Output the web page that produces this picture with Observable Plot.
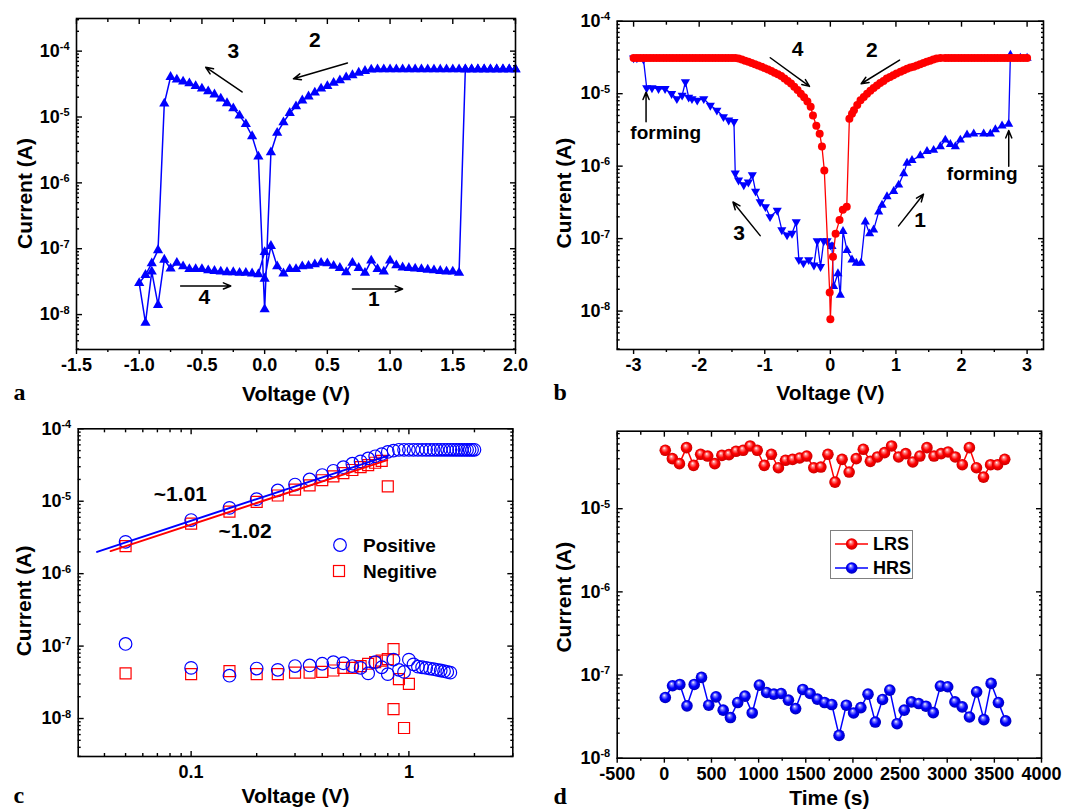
<!DOCTYPE html>
<html><head><meta charset="utf-8">
<script src="https://cdn.jsdelivr.net/npm/d3@7"></script>
<script src="https://cdn.jsdelivr.net/npm/@observablehq/plot@0.6"></script>
<style>
body{margin:0;background:#fff;}
#wrap{position:relative;width:1083px;height:809px;background:#fff;overflow:hidden;font-family:'Liberation Sans',Arial,Helvetica,sans-serif;}
.panel{position:absolute;}
.leg{position:absolute;overflow:visible;}
</style></head>
<body>
<svg width="0" height="0" style="position:absolute"><defs>
<radialGradient id="gRed" cx="50%" cy="50%" r="55%" fx="40%" fy="30%">
<stop offset="0%" stop-color="#ffffff"/><stop offset="22%" stop-color="#ff8080"/><stop offset="55%" stop-color="#ff0000"/><stop offset="100%" stop-color="#c00000"/>
</radialGradient>
<radialGradient id="gBlue" cx="50%" cy="50%" r="55%" fx="40%" fy="30%">
<stop offset="0%" stop-color="#ffffff"/><stop offset="22%" stop-color="#8080ff"/><stop offset="55%" stop-color="#0000ff"/><stop offset="100%" stop-color="#0000b0"/>
</radialGradient>
</defs></svg>
<div id="wrap">
<div class="panel" id="pa" style="left:0;top:0;width:540px;height:405px"></div>
<div class="panel" id="pb" style="left:540px;top:0;width:543px;height:405px"></div>
<div class="panel" id="pc" style="left:0;top:405px;width:540px;height:404px"></div>
<div class="panel" id="pd" style="left:540px;top:405px;width:543px;height:404px"></div>
</div>
<script>
// ---------------- Panel a data: [voltage V, current A] ----------------
const aSweep1 = [[0,3.5e-8],[0.05,1.1e-7],[0.1,5.4e-8],[0.15,4.2e-8],[0.2,4.9e-8],[0.25,4.9e-8],[0.3,5.4e-8],[0.35,5.5e-8],[0.4,5.8e-8],[0.45,6.1e-8],[0.5,6.0e-8],[0.55,5.5e-8],[0.6,5.1e-8],[0.65,4.4e-8],[0.7,6.1e-8],[0.75,5.1e-8],[0.8,4.3e-8],[0.85,6.6e-8],[0.9,4.9e-8],[0.95,4.5e-8],[1.0,6.6e-8],[1.05,5.6e-8],[1.1,5.2e-8],[1.15,5.1e-8],[1.2,5.0e-8],[1.25,4.9e-8],[1.3,4.8e-8],[1.35,4.7e-8],[1.4,4.6e-8],[1.45,4.5e-8],[1.5,4.5e-8],[1.55,4.3e-8],[1.6,5.3e-5],[1.65,5.3e-5],[1.7,5.3e-5],[1.75,5.3e-5],[1.8,5.3e-5],[1.85,5.3e-5],[1.9,5.3e-5],[1.95,5.3e-5],[2.0,5.3e-5]];
const aSweep2 = [[2.0,5.3e-5],[1.95,5.3e-5],[1.9,5.3e-5],[1.85,5.3e-5],[1.8,5.3e-5],[1.75,5.3e-5],[1.7,5.3e-5],[1.65,5.3e-5],[1.6,5.3e-5],[1.55,5.3e-5],[1.5,5.3e-5],[1.45,5.3e-5],[1.4,5.3e-5],[1.35,5.3e-5],[1.3,5.3e-5],[1.25,5.3e-5],[1.2,5.3e-5],[1.15,5.3e-5],[1.1,5.3e-5],[1.05,5.3e-5],[1.0,5.3e-5],[0.95,5.3e-5],[0.9,5.3e-5],[0.85,5.25e-5],[0.8,5.0e-5],[0.75,4.7e-5],[0.7,4.3e-5],[0.65,4.0e-5],[0.6,3.6e-5],[0.55,3.3e-5],[0.5,2.95e-5],[0.45,2.7e-5],[0.4,2.35e-5],[0.35,2.05e-5],[0.3,1.78e-5],[0.25,1.45e-5],[0.2,1.15e-5],[0.15,8.3e-6],[0.1,5.75e-6],[0.05,2.9e-6],[0,1.2e-8]];
const aSweep3 = [[-0.05,2.5e-6],[-0.1,5.1e-6],[-0.15,7.8e-6],[-0.2,1.05e-5],[-0.25,1.35e-5],[-0.3,1.62e-5],[-0.35,1.9e-5],[-0.4,2.2e-5],[-0.45,2.45e-5],[-0.5,2.7e-5],[-0.55,2.95e-5],[-0.6,3.25e-5],[-0.65,3.45e-5],[-0.7,3.7e-5],[-0.75,4.05e-5],[-0.8,1.6e-5],[-0.85,9.5e-8],[-0.9,6.0e-8],[-0.95,4.0e-8],[-1.0,3.0e-8]];
const aSweep4 = [[-0.95,7.5e-9],[-0.9,4.5e-8],[-0.85,1.4e-8],[-0.8,6.8e-8],[-0.75,5.0e-8],[-0.7,6.1e-8],[-0.65,5.4e-8],[-0.6,4.9e-8],[-0.55,4.9e-8],[-0.5,4.9e-8],[-0.45,4.7e-8],[-0.4,4.6e-8],[-0.35,4.5e-8],[-0.3,4.4e-8],[-0.25,4.4e-8],[-0.2,4.3e-8],[-0.15,4.3e-8],[-0.1,4.2e-8],[-0.05,4.1e-8],[0,8.9e-8]];
const aLabels = [{t:"3",x:-0.25,y:1.0e-4},{t:"2",x:0.40,y:1.45e-4},{t:"4",x:-0.48,y:1.85e-8},{t:"1",x:0.87,y:1.7e-8}];
const aArrows = [{x1:-0.18,y1:2.4e-5,x2:-0.47,y2:5.7e-5},{x1:0.66,y1:6.6e-5,x2:0.23,y2:3.8e-5},{x1:-0.67,y1:2.72e-8,x2:-0.27,y2:2.72e-8},{x1:0.70,y1:2.45e-8,x2:1.10,y2:2.45e-8}];

// ---------------- Panel b data ----------------
const bRed = [[-3.00,3.1e-5],[-2.95,3.1e-5],[-2.90,3.1e-5],[-2.85,3.1e-5],[-2.80,3.1e-5],[-2.75,3.1e-5],[-2.70,3.1e-5],[-2.65,3.1e-5],[-2.60,3.1e-5],[-2.55,3.1e-5],[-2.50,3.1e-5],[-2.45,3.1e-5],[-2.40,3.1e-5],[-2.35,3.1e-5],[-2.30,3.1e-5],[-2.25,3.1e-5],[-2.20,3.1e-5],[-2.15,3.1e-5],[-2.10,3.1e-5],[-2.05,3.1e-5],[-2.00,3.1e-5],[-1.95,3.1e-5],[-1.90,3.1e-5],[-1.85,3.1e-5],[-1.80,3.1e-5],[-1.75,3.1e-5],[-1.70,3.1e-5],[-1.65,3.1e-5],[-1.60,3.1e-5],[-1.55,3.1e-5],[-1.50,3.1e-5],[-1.45,3.1e-5],
[-1.40,3.05e-5],[-1.35,2.95e-5],[-1.30,2.85e-5],[-1.25,2.75e-5],[-1.20,2.65e-5],[-1.15,2.55e-5],[-1.10,2.45e-5],[-1.05,2.35e-5],[-1.00,2.25e-5],[-0.95,2.15e-5],[-0.90,2.05e-5],[-0.85,1.95e-5],[-0.80,1.85e-5],[-0.75,1.75e-5],[-0.70,1.62e-5],[-0.65,1.5e-5],[-0.60,1.38e-5],[-0.55,1.25e-5],[-0.50,1.12e-5],[-0.45,1.0e-5],[-0.40,8.9e-6],[-0.35,7.8e-6],[-0.30,6.6e-6],[-0.265,5.0e-6],[-0.214,3.6e-6],[-0.163,2.8e-6],[-0.128,1.86e-6],[-0.092,8.7e-7],[-0.01,1.8e-8],[0.0,7.7e-9],
[0.04,5.6e-8],[0.08,1.17e-7],[0.14,1.8e-7],[0.19,2.5e-7],[0.25,2.75e-7],[0.29,4.5e-6],[0.33,5.3e-6],[0.36,5.9e-6],[0.41,7.0e-6],[0.46,8.1e-6],[0.51,9.0e-6],[0.56,1.0e-5],[0.61,1.1e-5],[0.66,1.2e-5],[0.71,1.3e-5],[0.76,1.4e-5],[0.81,1.5e-5],[0.86,1.62e-5],[0.91,1.7e-5],[0.96,1.8e-5],[1.01,1.9e-5],[1.07,2.0e-5],[1.12,2.1e-5],[1.17,2.2e-5],[1.22,2.3e-5],[1.27,2.35e-5],[1.32,2.45e-5],[1.37,2.55e-5],[1.42,2.65e-5],[1.47,2.75e-5],[1.52,2.85e-5],[1.57,2.95e-5],[1.62,3.05e-5],[1.68,3.1e-5],
[1.75,3.1e-5],[1.80,3.1e-5],[1.85,3.1e-5],[1.90,3.1e-5],[1.95,3.1e-5],[2.00,3.1e-5],[2.05,3.1e-5],[2.10,3.1e-5],[2.15,3.1e-5],[2.20,3.1e-5],[2.25,3.1e-5],[2.30,3.1e-5],[2.35,3.1e-5],[2.40,3.1e-5],[2.45,3.1e-5],[2.50,3.1e-5],[2.55,3.1e-5],[2.60,3.1e-5],[2.65,3.1e-5],[2.70,3.1e-5],[2.75,3.1e-5],[2.80,3.1e-5],[2.85,3.1e-5],[2.90,3.1e-5],[2.95,3.1e-5],[3.00,3.1e-5]];
const bBlueNeg = [[0,8.1e-8],[-0.05,9.3e-8],[-0.10,9.3e-8],[-0.15,4.1e-8],[-0.20,9.3e-8],[-0.25,4.3e-8],[-0.33,5.1e-8],[-0.41,4.6e-8],[-0.48,5.1e-8],[-0.52,1.7e-7],[-0.585,1.18e-7],[-0.66,1.12e-7],[-0.74,1.32e-7],[-0.81,2.45e-7],[-0.92,2.0e-7],[-0.99,2.75e-7],[-1.07,3.2e-7],[-1.14,4.5e-7],[-1.19,7.6e-7],[-1.25,6.0e-7],[-1.32,5.5e-7],[-1.40,6.4e-7],[-1.45,8.0e-7],[-1.47,4.1e-6],[-1.55,4.3e-6],[-1.63,4.8e-6],[-1.73,5.9e-6],[-1.83,6.9e-6],[-1.93,8.5e-6],[-2.03,8.1e-6],[-2.11,8.5e-6],[-2.16,8.9e-6],[-2.21,1.45e-5],[-2.26,9.5e-6],[-2.34,8.5e-6],[-2.42,1.0e-5],[-2.52,1.17e-5],[-2.62,1.17e-5],[-2.72,1.2e-5],[-2.80,1.2e-5],[-2.85,3.0e-5],[-2.95,3.1e-5],[-3.0,3.1e-5]];
const bBluePos = [[0.025,7.8e-8],[0.05,2.2e-8],[0.116,3.3e-8],[0.152,1.66e-8],[0.193,1.26e-7],[0.254,6.9e-8],[0.330,5.1e-8],[0.396,4.6e-8],[0.467,4.6e-8],[0.533,1.7e-7],[0.599,1.17e-7],[0.660,1.32e-7],[0.737,2.34e-7],[0.788,2.9e-7],[0.864,3.8e-7],[0.966,4.5e-7],[1.042,5.5e-7],[1.118,7.9e-7],[1.169,1.1e-6],[1.245,1.2e-6],[1.372,1.4e-6],[1.474,1.6e-6],[1.575,1.66e-6],[1.677,1.86e-6],[1.753,2.3e-6],[1.830,2.0e-6],[1.906,1.86e-6],[1.982,2.3e-6],[2.084,2.7e-6],[2.186,2.8e-6],[2.338,2.8e-6],[2.440,2.8e-6],[2.516,3.2e-6],[2.618,3.6e-6],[2.719,3.8e-6],[2.745,3.4e-5],[2.897,3.1e-5],[3.0,3.1e-5]];
const bLabels = [{t:"4",x:-0.50,y:4.1e-5},{t:"2",x:0.634,y:4.0e-5},{t:"3",x:-1.39,y:1.18e-7},{t:"1",x:1.37,y:1.78e-7}];
const bForming = [{t:"forming",x:-2.51,y:2.9e-6},{t:"forming",x:2.315,y:7.9e-7}];
const bArrows = [{x1:-0.916,y1:3.13e-5,x2:-0.317,y2:1.26e-5},{x1:1.055,y1:2.9e-5,x2:0.47,y2:1.37e-5},{x1:-1.07,y1:1.1e-7,x2:-1.485,y2:3.2e-7},{x1:1.04,y1:1.5e-7,x2:1.42,y2:4.1e-7},{x1:-2.81,y1:4.1e-6,x2:-2.81,y2:1.05e-5},{x1:2.72,y1:1.0e-6,x2:2.72,y2:3.1e-6}];

// ---------------- Panel c data (|V|, I) ----------------
const cPosLRS = [[0.05,2.75e-6],[0.1,5.5e-6],[0.15,8.1e-6],[0.2,1.07e-5],[0.25,1.41e-5],[0.3,1.7e-5],[0.35,2.0e-5],[0.4,2.3e-5],[0.45,2.63e-5],[0.5,2.95e-5],[0.55,3.3e-5],[0.6,3.55e-5],[0.65,3.9e-5],[0.7,4.17e-5],[0.75,4.47e-5],[0.8,4.8e-5],[0.85,5.0e-5],[0.9,5.13e-5],[0.95,5.13e-5],[1.0,5.13e-5],[1.05,5.13e-5],[1.1,5.13e-5],[1.15,5.13e-5],[1.2,5.13e-5],[1.25,5.13e-5],[1.3,5.13e-5],[1.35,5.13e-5],[1.4,5.13e-5],[1.45,5.13e-5],[1.5,5.13e-5],[1.55,5.13e-5],[1.6,5.13e-5],[1.65,5.13e-5],[1.7,5.13e-5],[1.75,5.13e-5],[1.8,5.13e-5],[1.85,5.13e-5],[1.9,5.13e-5],[1.95,5.13e-5],[2.0,5.13e-5]];
const cNegLRS = [[0.05,2.4e-6],[0.1,4.9e-6],[0.15,7.2e-6],[0.2,9.8e-6],[0.25,1.2e-5],[0.3,1.45e-5],[0.35,1.66e-5],[0.4,1.95e-5],[0.45,2.2e-5],[0.5,2.45e-5],[0.55,2.7e-5],[0.6,2.95e-5],[0.65,3.16e-5],[0.7,3.4e-5],[0.75,3.6e-5],[0.8,1.6e-5]];
const cPosHRS = [[0.05,1.07e-7],[0.1,5.0e-8],[0.15,3.9e-8],[0.2,4.9e-8],[0.25,4.7e-8],[0.3,5.3e-8],[0.35,5.4e-8],[0.4,5.7e-8],[0.45,6.0e-8],[0.5,5.8e-8],[0.55,5.3e-8],[0.6,5.0e-8],[0.65,4.2e-8],[0.7,6.0e-8],[0.75,5.1e-8],[0.8,4.1e-8],[0.85,6.5e-8],[0.9,4.7e-8],[0.95,4.4e-8],[1.0,6.5e-8],[1.05,5.6e-8],[1.1,5.2e-8],[1.15,5.1e-8],[1.2,5.0e-8],[1.25,4.9e-8],[1.3,4.8e-8],[1.35,4.7e-8],[1.4,4.6e-8],[1.45,4.5e-8],[1.5,4.4e-8],[1.55,4.3e-8]];
const cNegHRS = [[0.05,4.2e-8],[0.1,4.1e-8],[0.15,4.5e-8],[0.2,4.1e-8],[0.25,4.1e-8],[0.3,4.3e-8],[0.35,4.3e-8],[0.4,4.4e-8],[0.45,4.6e-8],[0.5,5.0e-8],[0.55,5.0e-8],[0.6,5.3e-8],[0.65,5.7e-8],[0.7,6.0e-8],[0.75,6.3e-8],[0.8,6.6e-8],[0.85,9.1e-8],[0.85,1.35e-8],[0.9,3.5e-8],[0.95,7.4e-9],[1.0,3.0e-8]];
const cFitPos = [[0.037,2.0e-6],[0.81,4.3e-5]];
const cFitNeg = [[0.0427,2.05e-6],[0.795,3.7e-5]];
const cLabels = [{t:"~1.01",x:0.0893,y:1.24e-5},{t:"~1.02",x:0.177,y:3.85e-6}];
const cSeries = ["Positive","Negitive"];

// ---------------- Panel d data (time s, current A) ----------------
const dTimeLRS = [10,85,160,235,310,385,460,535,610,685,760,835,910,985,1060,1135,1210,1285,1360,1435,1510,1585,1660,1735,1810,1885,1960,2035,2110,2185,2260,2335,2410,2485,2560,2635,2710,2785,2860,2935,3010,3085,3160,3235,3310,3385,3460,3535,3610];
const dLRS = [5.04e-5,4.00e-5,3.48e-5,5.42e-5,3.32e-5,4.51e-5,4.30e-5,3.48e-5,4.38e-5,4.47e-5,4.90e-5,5.04e-5,5.68e-5,5.04e-5,3.32e-5,4.51e-5,3.11e-5,3.82e-5,3.92e-5,4.07e-5,4.30e-5,3.11e-5,3.17e-5,4.51e-5,2.09e-5,3.92e-5,2.76e-5,4.00e-5,5.18e-5,3.71e-5,4.19e-5,4.72e-5,5.68e-5,4.19e-5,4.59e-5,3.65e-5,4.30e-5,5.42e-5,4.30e-5,4.59e-5,4.81e-5,4.19e-5,3.38e-5,5.42e-5,3.11e-5,2.40e-5,3.38e-5,3.38e-5,3.92e-5];
const dTimeHRS = [10,87,164,240,317,394,471,548,624,701,778,855,932,1008,1085,1162,1239,1316,1392,1469,1546,1623,1700,1776,1853,1930,2007,2084,2160,2237,2314,2391,2468,2544,2621,2698,2775,2852,2928,3005,3082,3159,3236,3312,3389,3466,3543,3620];
const dHRS = [5.37e-8,7.43e-8,7.71e-8,4.26e-8,7.71e-8,9.37e-8,4.34e-8,5.47e-8,3.78e-8,3.08e-8,4.67e-8,5.57e-8,3.50e-8,7.57e-8,6.17e-8,5.89e-8,6.00e-8,4.99e-8,3.95e-8,6.71e-8,6.00e-8,5.13e-8,4.67e-8,4.42e-8,1.88e-8,4.34e-8,3.50e-8,4.06e-8,5.89e-8,2.72e-8,5.08e-8,6.59e-8,2.60e-8,3.78e-8,4.75e-8,4.54e-8,4.22e-8,3.53e-8,7.36e-8,7.23e-8,4.75e-8,4.14e-8,3.13e-8,6.28e-8,2.91e-8,7.93e-8,4.67e-8,2.81e-8];
const dSeries = ["LRS","HRS"];

// ---------------- tick values ----------------
const aXTicks = [-1.5,-1.0,-0.5,0,0.5,1.0,1.5,2.0];
const aXMinor = [-1.25,-0.75,-0.25,0.25,0.75,1.25,1.75];
const bXTicks = [-3,-2,-1,0,1,2,3];
const bXMinor = [-2.5,-1.5,-0.5,0.5,1.5,2.5];
const cXTicks = [0.1,1];
const cXMinor = [0.04,0.05,0.06,0.07,0.08,0.09,0.2,0.3,0.4,0.5,0.6,0.7,0.8,0.9,2,3];
const dXTicks = [-500,0,500,1000,1500,2000,2500,3000,3500,4000];
const dXMinor = [-250,250,750,1250,1750,2250,2750,3250,3750];
const yDecades = [1e-8,1e-7,1e-6,1e-5,1e-4];

const FONT = "'Liberation Sans', Arial, Helvetica, sans-serif";
const SERIF = "'Liberation Serif', 'Times New Roman', serif";
const fx = d => d[0], fy = d => d[1];
const triDown = {draw(ctx, size) {
  const y = -Math.sqrt(size / (Math.sqrt(3) * 3)), s3 = Math.sqrt(3);
  ctx.moveTo(0, -y * 2); ctx.lineTo(-s3 * y, y); ctx.lineTo(s3 * y, y); ctx.closePath();
}};

function minorLog(lo, hi) {
  const out = [];
  for (let e = Math.floor(Math.log10(lo)); e <= Math.ceil(Math.log10(hi)); e++)
    for (let k = 2; k <= 9; k++) { const v = k * Math.pow(10, e); if (v >= lo && v <= hi) out.push(v); }
  return out;
}

function supTicks(svg) {
  d3.select(svg).selectAll("text").each(function() {
    const s = this.textContent;
    if (!/^10\^/.test(s)) return;
    const t = d3.select(this); t.text("");
    t.append("tspan").text("10");
    t.append("tspan").attr("dy", "-0.6em").attr("font-size", "11px").text(s.slice(3));
  });
}

function panel(o) {
  const none = () => "";
  const yT = yDecades.filter(v => v >= o.y.domain[0] * 0.999 && v <= o.y.domain[1] * 1.001);
  const yM = minorLog(o.y.domain[0], o.y.domain[1]);
  const sw = 1.4;
  const marks = [
    ...o.marks,
    Plot.axisX({anchor: "bottom", ticks: o.xTicks, tickSize: o.xOut ? 5 : -5, tickPadding: o.xOut ? 4 : 14, tickFormat: o.xFmt, label: null, fontSize: 18, strokeWidth: sw}),
    Plot.axisX({anchor: "bottom", ticks: o.xMinor, tickSize: o.xOut ? 3 : -3, tickFormat: none, label: null, strokeWidth: sw}),
    Plot.axisX({anchor: "top", ticks: o.xTicks, tickSize: -5, tickFormat: none, label: null, strokeWidth: sw}),
    Plot.axisX({anchor: "top", ticks: o.xMinor, tickSize: -3, tickFormat: none, label: null, strokeWidth: sw}),
    Plot.axisY({anchor: "left", ticks: yT, tickSize: -6, tickPadding: 13, tickFormat: d => "10^" + Math.round(Math.log10(d)), label: null, fontSize: 18, strokeWidth: sw}),
    Plot.axisY({anchor: "left", ticks: yM, tickSize: -3, tickFormat: none, label: null, strokeWidth: sw}),
    Plot.axisY({anchor: "right", ticks: yT, tickSize: -6, tickFormat: none, label: null, strokeWidth: sw}),
    Plot.axisY({anchor: "right", ticks: yM, tickSize: -3, tickFormat: none, label: null, strokeWidth: sw}),
    Plot.frame({stroke: "black", strokeWidth: 1.6}),
    Plot.text([o.xTitle], {frameAnchor: "bottom", dy: o.xTitleDy, text: d => d, fontSize: 21, textAnchor: "middle", lineAnchor: "middle"}),
    Plot.text([o.yTitle], {frameAnchor: "left", dx: o.yTitleDx, dy: o.yTitleDy, rotate: -90, text: d => d, fontSize: 21, textAnchor: "middle", lineAnchor: "middle"}),
    Plot.text([o.letter], {frameAnchor: "bottom-left", dx: o.letterDx, dy: o.letterDy, text: d => d, fontSize: 24, fontFamily: SERIF, textAnchor: "start", lineAnchor: "middle"})
  ];
  const svg = Plot.plot({
    width: o.width, height: o.height,
    marginLeft: o.m[0], marginRight: o.m[1], marginTop: o.m[2], marginBottom: o.m[3],
    x: o.x, y: o.y,
    style: {fontFamily: FONT, fontWeight: "bold", color: "black", background: "transparent", overflow: "visible"},
    marks
  });
  supTicks(svg);
  return svg;
}

const annoText = (data, size) => Plot.text(data, {x: "x", y: "y", text: "t", fontSize: size, fill: "black", lineAnchor: "middle"});
const annoArrow = data => Plot.arrow(data, {x1: "x1", y1: "y1", x2: "x2", y2: "y2", stroke: "black", strokeWidth: 1.5, headLength: 8, headAngle: 45});

// ---- a ----
const aAll = [...aSweep1, ...aSweep2, ...aSweep3, ...aSweep4];
document.getElementById("pa").append(panel({
  width: 540, height: 405, m: [76, 25, 18, 56],
  x: {type: "linear", domain: [-1.5, 2.0]}, y: {type: "log", domain: [2.95e-9, 3.13e-4]},
  xTicks: aXTicks, xMinor: aXMinor, xOut: true, xFmt: d => d.toFixed(1),
  xTitle: "Voltage (V)", yTitle: "Current (A)", letter: "a",
  xTitleDy: 45, yTitleDx: -51, yTitleDy: 9.5, letterDx: -63, letterDy: 43,
  marks: [
    Plot.line(aAll, {x: fx, y: fy, stroke: "#0000ff", strokeWidth: 1.5}),
    Plot.dot(aAll, {x: fx, y: fy, symbol: "triangle", r: 3.8, fill: "#0000ff"}),
    annoArrow(aArrows), annoText(aLabels, 21)
  ]
}));

// ---- b ----
document.getElementById("pb").append(panel({
  width: 543, height: 405, m: [76.7, 40, 20.7, 56],
  x: {type: "linear", domain: [-3.25, 3.25]}, y: {type: "log", domain: [2.95e-9, 1e-4]},
  xTicks: bXTicks, xMinor: bXMinor, xOut: true, xFmt: d => String(d),
  xTitle: "Voltage (V)", yTitle: "Current (A)", letter: "b",
  xTitleDy: 44, yTitleDx: -52.7, yTitleDy: 7.7, letterDx: -63.7, letterDy: 43,
  marks: [
    Plot.line(bBlueNeg, {x: fx, y: fy, stroke: "#0000ff", strokeWidth: 1.3}),
    Plot.dot(bBlueNeg, {x: fx, y: fy, symbol: triDown, r: 3.4, fill: "#0000ff"}),
    Plot.line(bBluePos, {x: fx, y: fy, stroke: "#0000ff", strokeWidth: 1.3}),
    Plot.dot(bBluePos, {x: fx, y: fy, symbol: "triangle", r: 3.4, fill: "#0000ff"}),
    Plot.line(bRed, {x: fx, y: fy, stroke: "#ff0000", strokeWidth: 1.3}),
    Plot.dot(bRed, {x: fx, y: fy, r: 4, fill: "#ff0000"}),
    annoArrow(bArrows), annoText(bLabels, 21), annoText(bForming, 19)
  ]
}));

// ---- c ----
document.getElementById("pc").append(panel({
  width: 540, height: 404, m: [77.7, 27.7, 23.3, 53],
  x: {type: "log", domain: [0.0303, 3.0]}, y: {type: "log", domain: [2.99e-9, 1e-4]},
  xTicks: cXTicks, xMinor: cXMinor, xOut: false, xFmt: d => String(d),
  xTitle: "Voltage (V)", yTitle: "Current (A)", letter: "c",
  xTitleDy: 40, yTitleDx: -53.7, yTitleDy: 8.3, letterDx: -64.7, letterDy: 39,
  marks: [
    Plot.dot(cNegLRS, {x: fx, y: fy, symbol: "square", r: 6.2, stroke: "#ff0000", fill: "none", strokeWidth: 1.2}),
    Plot.dot(cNegHRS, {x: fx, y: fy, symbol: "square", r: 6.2, stroke: "#ff0000", fill: "none", strokeWidth: 1.2}),
    Plot.dot(cPosLRS, {x: fx, y: fy, r: 6.3, stroke: "#0000ff", fill: "none", strokeWidth: 1.2}),
    Plot.dot(cPosHRS, {x: fx, y: fy, r: 6.3, stroke: "#0000ff", fill: "none", strokeWidth: 1.2}),
    Plot.line(cFitNeg, {x: fx, y: fy, stroke: "#ff0000", strokeWidth: 2}),
    Plot.line(cFitPos, {x: fx, y: fy, stroke: "#0000ff", strokeWidth: 2}),
    annoText(cLabels, 21)
  ]
}));

// ---- d ----
const dL = d3.zip(dTimeLRS, dLRS), dH = d3.zip(dTimeHRS, dHRS);
document.getElementById("pd").append(panel({
  width: 543, height: 404, m: [76.7, 42, 25.7, 51.3],
  x: {type: "linear", domain: [-500, 4000]}, y: {type: "log", domain: [1e-8, 8.55e-5]},
  xTicks: dXTicks, xMinor: dXMinor, xOut: true, xFmt: d => String(d),
  xTitle: "Time (s)", yTitle: "Current (A)", letter: "d",
  xTitleDy: 40, yTitleDx: -52.7, yTitleDy: 2.5, letterDx: -63.7, letterDy: 38,
  marks: [
    Plot.line(dL, {x: fx, y: fy, stroke: "#ff0000", strokeWidth: 1.5}),
    Plot.dot(dL, {x: fx, y: fy, r: 5.8, fill: "url(#gRed)"}),
    Plot.line(dH, {x: fx, y: fy, stroke: "#0000ff", strokeWidth: 1.5}),
    Plot.dot(dH, {x: fx, y: fy, r: 5.8, fill: "url(#gBlue)"})
  ]
}));

// ---- legends ----
const wrap = document.getElementById("wrap");
function legendSvg(left, top, w, h) {
  return d3.select(wrap).append("svg").attr("class", "leg").attr("width", w).attr("height", h)
    .style("left", left + "px").style("top", top + "px")
    .attr("font-family", FONT).attr("font-weight", "bold");
}
// c legend
{
  const s = legendSvg(325, 530, 130, 56);
  const cols = ["#0000ff", "#ff0000"];
  cSeries.forEach((name, i) => {
    const cy = 15 + i * 26;
    if (i === 0) s.append("circle").attr("cx", 15).attr("cy", cy).attr("r", 6.3).attr("fill", "none").attr("stroke", cols[i]).attr("stroke-width", 1.2);
    else s.append("rect").attr("x", 8.5).attr("y", cy - 5.5).attr("width", 11).attr("height", 11).attr("fill", "none").attr("stroke", cols[i]).attr("stroke-width", 1.2);
    s.append("text").attr("x", 38).attr("y", cy).attr("dy", "0.35em").attr("font-size", 19).text(name);
  });
}
// d legend
{
  const s = legendSvg(830, 530, 84, 50);
  s.append("rect").attr("x", 0.5).attr("y", 0.5).attr("width", 82).attr("height", 48).attr("fill", "white").attr("stroke", "#808080").attr("stroke-width", 1);
  const cols = ["#ff0000", "#0000ff"], grads = ["url(#gRed)", "url(#gBlue)"];
  dSeries.forEach((name, i) => {
    const cy = 14 + i * 24;
    s.append("line").attr("x1", 5).attr("x2", 38).attr("y1", cy).attr("y2", cy).attr("stroke", cols[i]).attr("stroke-width", 1.5);
    s.append("circle").attr("cx", 21.7).attr("cy", cy).attr("r", 5.8).attr("fill", grads[i]);
    s.append("text").attr("x", 43).attr("y", cy).attr("dy", "0.35em").attr("font-size", 18).text(name);
  });
}
</script>
</body></html>
